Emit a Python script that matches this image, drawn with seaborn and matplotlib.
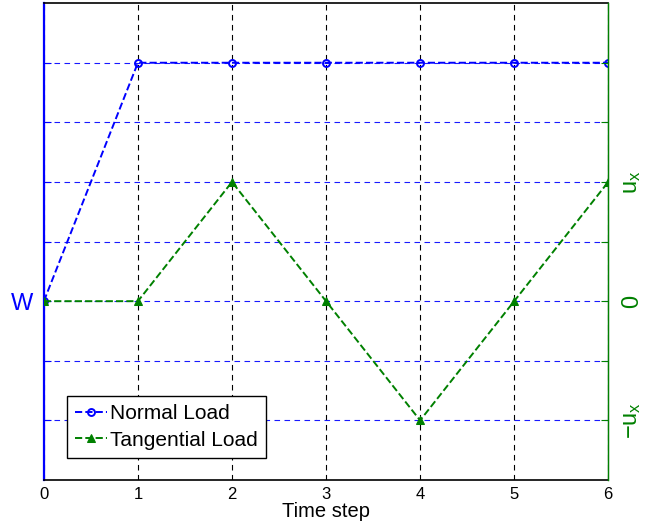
import numpy as np
import pandas as pd
import matplotlib
matplotlib.use('Agg')
import matplotlib.pyplot as plt
import seaborn as sns

# data
time_step = [0, 1, 2, 3, 4, 5, 6]
normal_load = [0, 4, 4, 4, 4, 4, 4]          # left axis, 0 -> W
tangential_load = [0, 0, 1, 0, -1, 0, 1]     # right axis, in units of u_x
left_ticks = [-2, -1, 0, 1, 2, 3, 4]
left_labels = ['', '', 'W', '', '', '', '']
right_ticks = [-1, -0.5, 0, 0.5, 1, 1.5, 2]
right_labels = [r'$-u_x$', '', '0', '', r'$u_x$', '', '']

sns.set_style('white')
plt.rcParams['font.family'] = ['Liberation Sans', 'DejaVu Sans']
plt.rcParams['mathtext.fontset'] = 'custom'
plt.rcParams['mathtext.rm'] = 'Liberation Sans'
plt.rcParams['mathtext.it'] = 'Liberation Sans'
plt.rcParams['text.color'] = 'black'
plt.rcParams['axes.labelcolor'] = 'black'
plt.rcParams['xtick.color'] = 'black'

blue = '#0000ff'; green = '#008000'

df = pd.DataFrame({'t': time_step, 'N': normal_load, 'T': tangential_load})

fig = plt.figure(figsize=(6.45, 5.29), dpi=100)
ax = fig.add_axes([0.068, 0.0926, 0.875, 0.9015])

sns.lineplot(data=df, x='t', y='N', ax=ax, color=blue, linestyle='--', linewidth=1.4,
             marker='o', markersize=5, markerfacecolor='none', markeredgecolor=blue,
             markeredgewidth=1.4, label='Normal Load', legend=False)
ax.set_xlim(0, 6); ax.set_ylim(-3, 5)
ax.set_xticks(time_step)
ax.set_yticks(left_ticks)
ax.set_yticklabels(left_labels, color=blue, fontsize=17)
ax.tick_params(axis='x', direction='in', length=5, labelsize=12, pad=5, color='black',
               labelcolor='black')
ax.tick_params(axis='y', direction='in', length=5, color=blue, pad=8)
ax.xaxis.grid(True, linestyle=(0, (5, 4)), color='black', linewidth=0.8)
ax.yaxis.grid(True, linestyle=(0, (5, 4)), color=blue, linewidth=0.8, alpha=0.9)
ax.set_xlabel('Time step', fontsize=14.5, labelpad=0, color='black')
ax.set_ylabel('')
ax.spines['left'].set_color(blue); ax.spines['left'].set_linewidth(1.6)
ax.spines['top'].set_color('black'); ax.spines['bottom'].set_color('black')
ax.spines['top'].set_linewidth(1.2); ax.spines['bottom'].set_linewidth(1.2)

ax2 = ax.twinx()
sns.lineplot(data=df, x='t', y='T', ax=ax2, color=green, linestyle='--', linewidth=1.4,
             marker='^', markersize=6, markerfacecolor=green, markeredgecolor=green,
             label='Tangential Load', legend=False)
ax2.set_ylim(-1.5, 2.5)
ax2.set_yticks(right_ticks)
ax2.set_yticklabels(right_labels, color=green, fontsize=17, rotation=90, va='center')
ax2.tick_params(axis='y', direction='in', length=5, color=green, pad=9)
ax2.set_ylabel('')
ax2.spines['right'].set_color(green); ax2.spines['right'].set_linewidth(1.0)
ax2.spines['left'].set_visible(False)
for sp in ['top', 'bottom']:
    ax2.spines[sp].set_visible(False)

h1, l1 = ax.get_legend_handles_labels()
h2, l2 = ax2.get_legend_handles_labels()
leg = ax2.legend(h1 + h2, l1 + l2, loc='lower left', bbox_to_anchor=(0.041, 0.046),
                 fontsize=15, frameon=True, fancybox=False, edgecolor='black',
                 handlelength=1.5, handletextpad=0.15, borderpad=0.4, labelspacing=0.35,
                 borderaxespad=0, labelcolor='black')
leg.get_frame().set_linewidth(1.0)
leg.get_frame().set_alpha(1)

fig.savefig('out.png', dpi=100)
